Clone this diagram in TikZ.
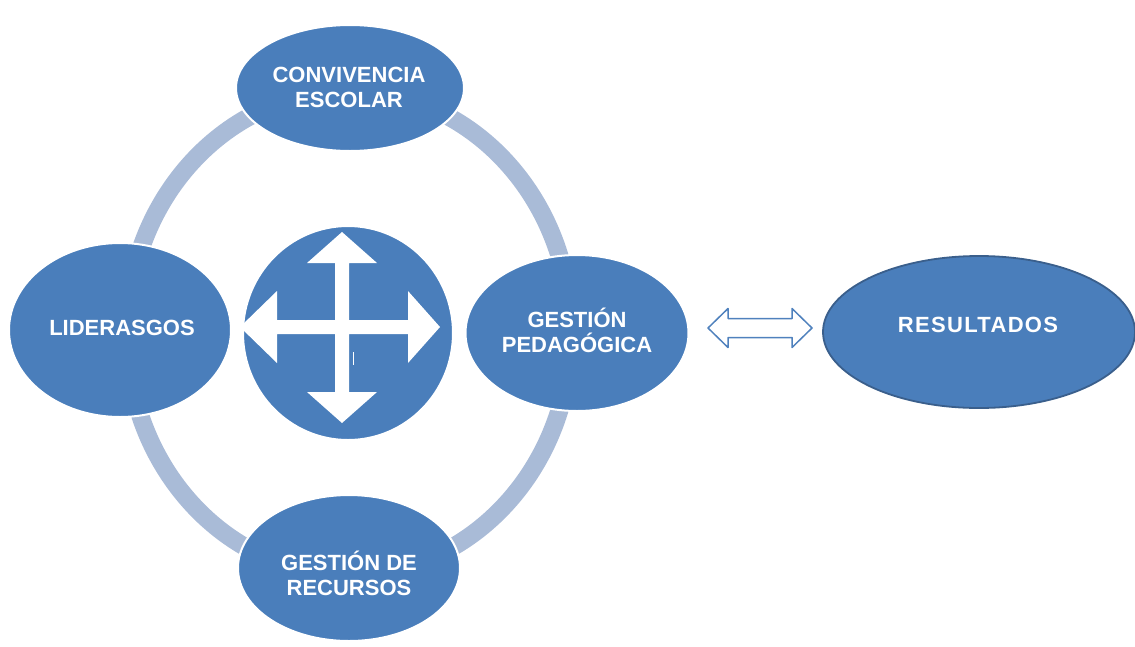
\documentclass[tikz,border=0pt]{standalone}
\usepackage{fontspec}
\setmainfont{Liberation Sans}
\usetikzlibrary{shapes.geometric}
\definecolor{blfill}{HTML}{4A7EBB}
\definecolor{ringc}{HTML}{A9BBD7}
\definecolor{resdraw}{HTML}{3A5F8C}
\definecolor{arrc}{HTML}{4F81BD}
\tikzset{
  bub/.style={ellipse, fill=blfill, draw=white, line width=2pt, inner sep=0pt},
  txt/.style={text=white, font=\bfseries\fontsize{22}{25}\selectfont, align=center, inner sep=0pt},
  dblarrow/.style={draw=arrc, fill=white, line width=1.5pt, line join=round},
}
\begin{document}
\begin{tikzpicture}[x=1pt,y=-1pt]
\useasboundingbox (0,0) rectangle (1135,646);
% ring
\draw[ringc, line width=18pt] (349,333) ellipse [x radius=222, y radius=242];
% bubbles
\node[bub, minimum width=228pt, minimum height=126pt] (conv) at (350,88) {};
\node[txt] (tconv) at (349,87) {CONVIVENCIA\\ESCOLAR};
\node[bub, minimum width=222pt, minimum height=174pt] (lid) at (120,330) {};
\node[txt] (tlid) at (122,328) {LIDERASGOS};
\node[bub, minimum width=223pt, minimum height=156pt] (gp) at (577,333) {};
\node[txt] (tgp) at (577,330) {GESTIÓN\\PEDAGÓGICA};
\node[bub, minimum width=222pt, minimum height=146pt] (gr) at (349,568) {};
\node[txt] (tgr) at (349,573) {GESTIÓN DE\\RECURSOS};
\node[bub, minimum width=210pt, minimum height=214pt] (cen) at (348,333) {};
% four-way arrow
\fill[white] (342,232) -- (377,263) -- (349,263) -- (349,320) -- (408,320) -- (408,291)
  -- (440,327) -- (408,363) -- (408,334) -- (349,334) -- (349,392) -- (377,392)
  -- (342,423) -- (307,392) -- (335,392) -- (335,334) -- (277,334) -- (277,363)
  -- (240,327) -- (277,291) -- (277,320) -- (335,320) -- (335,263) -- (307,263) -- cycle;
\draw[white, line width=1.5pt] (353.5,352) -- (353.5,365);
% results
\node[ellipse, fill=blfill, draw=resdraw, line width=1.8pt, inner sep=0pt,
      minimum width=312pt, minimum height=152pt] (res) at (979,332) {};
\node[txt, font=\bfseries\fontsize{22}{25}\selectfont\addfontfeature{LetterSpace=6}] (tres) at (978,325) {RESULTADOS};
% double arrow
\draw[dblarrow] (708,328) -- (728,308.5) -- (728,318.5) -- (792,318.5) -- (792,308.5)
  -- (812,328) -- (792,347.5) -- (792,337.5) -- (728,337.5) -- (728,347.5) -- cycle;
\end{tikzpicture}
\end{document}
